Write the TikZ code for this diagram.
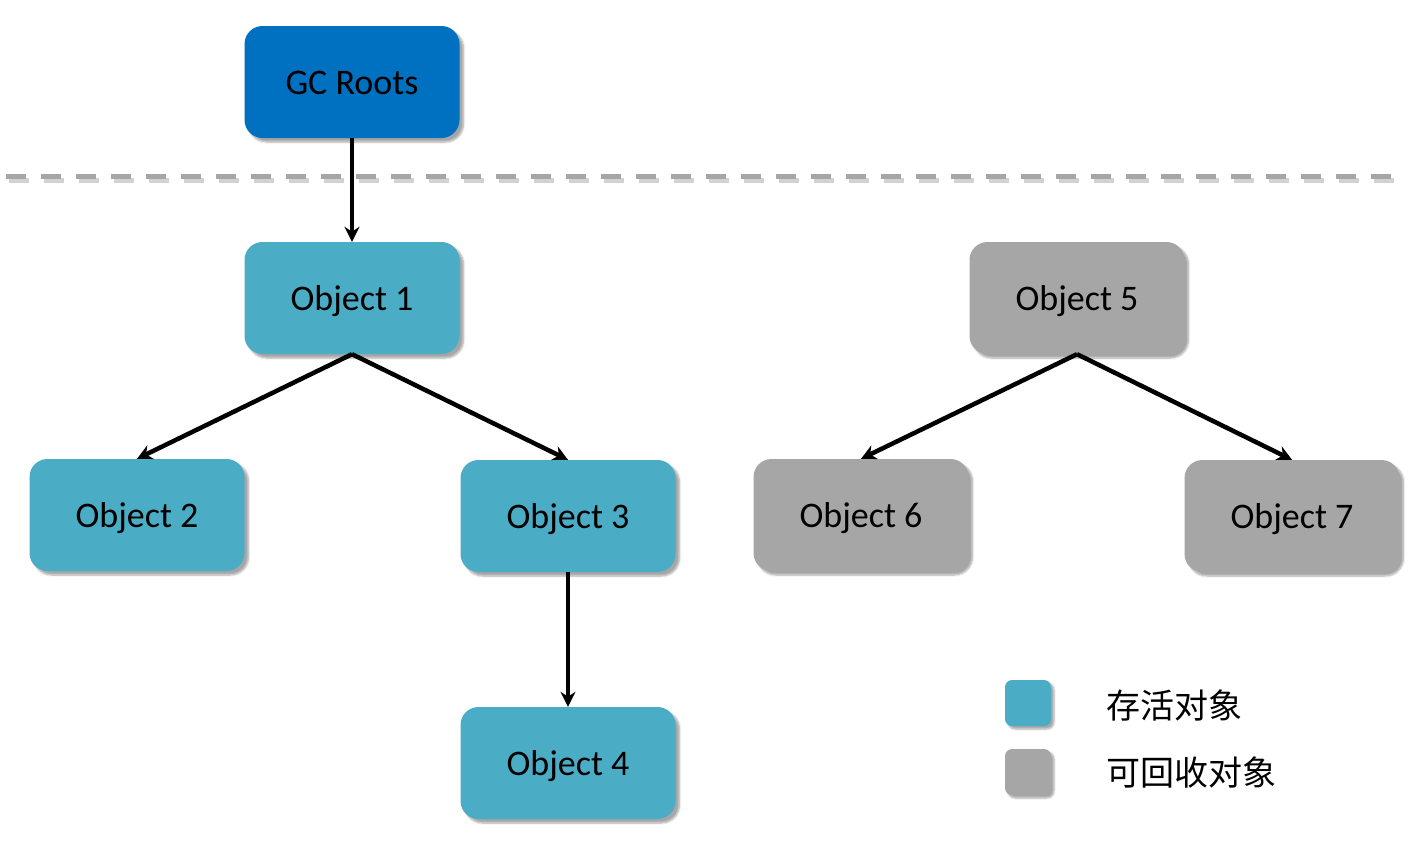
\documentclass[tikz,border=0pt]{standalone}
\usepackage{fontspec}
\setmainfont{Carlito}
\newfontfamily\cjk{Noto Sans CJK SC}
\usetikzlibrary{shadows.blur,arrows.meta}
\definecolor{rootblue}{HTML}{0070C0}
\definecolor{liveblue}{HTML}{4BACC6}
\definecolor{deadgray}{HTML}{A6A6A6}
\tikzset{
  obj/.style={rounded corners=18pt, minimum width=215pt, minimum height=112pt, inner sep=0pt,
     text height=30pt, text depth=6pt,
     font=\fontsize{36}{42}\selectfont, text=black,
     blur shadow={shadow xshift=4pt, shadow yshift=-4pt, shadow blur steps=6, shadow opacity=35}},
  live/.style={obj, fill=liveblue},
  dead/.style={obj, fill=deadgray},
  legbox/.style={rounded corners=7pt, minimum width=46pt, minimum height=46pt, inner sep=0pt,
     blur shadow={shadow xshift=3pt, shadow yshift=-3pt, shadow blur steps=5, shadow opacity=35}},
  legtext/.style={anchor=west, font=\cjk\fontsize{34}{38}\selectfont, inner sep=0pt},
  link/.style={line width=4.5pt, -{Stealth[length=15pt,width=15pt]}, black}
}
\begin{document}
\begin{tikzpicture}[x=1pt,y=-1pt]
\useasboundingbox (0,0) rectangle (1416,846);
\draw[deadgray, line width=5pt, dash pattern=on 20pt off 15pt, opacity=0.5, line cap=butt] (9,180) -- (1398,180);
\draw[deadgray, line width=5pt, dash pattern=on 20pt off 15pt] (6,176) -- (1395,176);
\node[obj, fill=rootblue] (gc) at (352,82) {GC Roots};
\node[live] (o1) at (352,298) {Object 1};
\node[live] (o2) at (137,515) {Object 2};
\node[live] (o3) at (568,516) {Object 3};
\node[live] (o4) at (568,763) {Object 4};
\node[dead] (o5) at (1077,298) {Object 5};
\node[dead] (o6) at (861,515) {Object 6};
\node[dead] (o7) at (1292,516) {Object 7};
\draw[link] (gc.south) -- (o1.north);
\draw[link] (o1.south) -- (o2.north);
\draw[link] (o1.south) -- (o3.north);
\draw[link] (o3.south) -- (o4.north);
\draw[link] (o5.south) -- (o6.north);
\draw[link] (o5.south) -- (o7.north);
\node[legbox, fill=liveblue] (l1) at (1028,703) {};
\node[legbox, fill=deadgray] (l2) at (1028,772) {};
\node[legtext] (t1) at (1106,705) {存活对象};
\node[legtext] (t2) at (1106,773) {可回收对象};
\end{tikzpicture}
\end{document}
